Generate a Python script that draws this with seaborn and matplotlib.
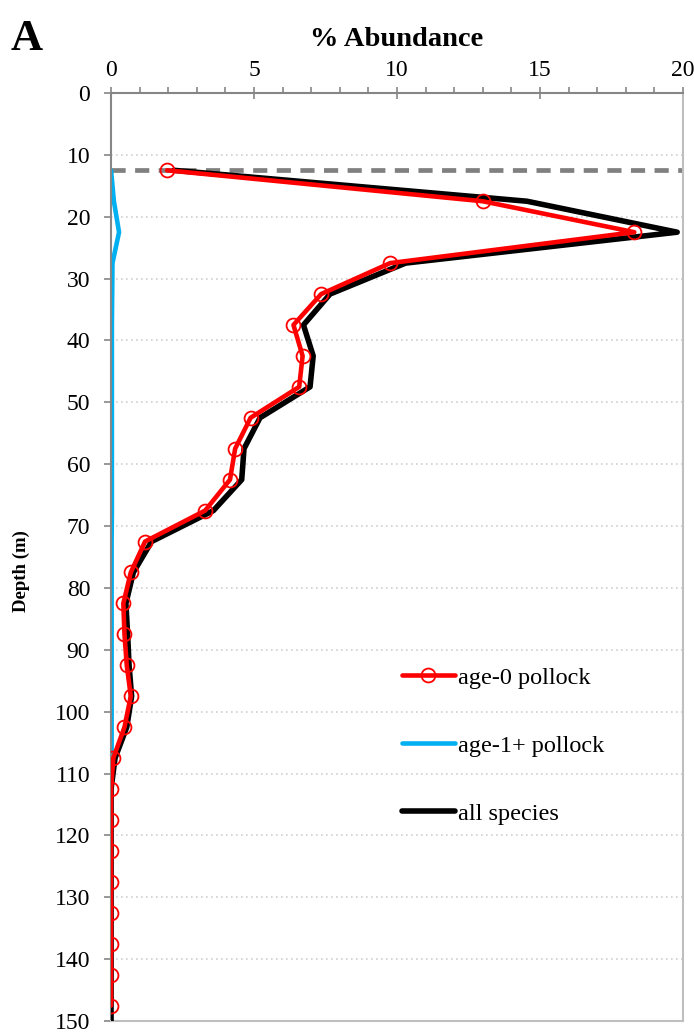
import matplotlib
matplotlib.use("Agg")
import matplotlib.pyplot as plt
import seaborn as sns
import pandas as pd
from matplotlib.ticker import MultipleLocator

# ---- data ----
depth = [12.5, 17.5, 22.5, 27.5, 32.5, 37.5, 42.5, 47.5, 52.5, 57.5, 62.5, 67.5,
         72.5, 77.5, 82.5, 87.5, 92.5, 97.5, 102.5, 107.5, 112.5, 117.5, 122.5,
         127.5, 132.5, 137.5, 142.5, 147.5]
age0 = [1.96, 13.0, 18.3, 9.76, 7.35, 6.38, 6.70, 6.58, 4.88, 4.34, 4.16, 3.29,
        1.19, 0.69, 0.43, 0.47, 0.55, 0.69, 0.47, 0.08, 0.0, 0.0, 0.0,
        0.0, 0.0, 0.0, 0.0, 0.0]
age1 = [0.0, 0.1, 0.28, 0.05, 0.04, 0.03, 0.03, 0.03, 0.03, 0.03, 0.03, 0.03,
        0.02, 0.02, 0.02, 0.02, 0.02, 0.02, 0.02, 0.02, 0.0, 0.0, 0.0,
        0.0, 0.0, 0.0, 0.0, 0.0]
all_depth = depth + [150.0]
all_species = [2.2, 14.55, 19.8, 10.3, 7.66, 6.73, 7.07, 6.96, 5.21, 4.65, 4.57, 3.58,
               1.42, 0.78, 0.52, 0.58, 0.63, 0.72, 0.55, 0.14, 0.0, 0.0, 0.0,
               0.0, 0.0, 0.0, 0.0, 0.0, 0.0]
surface_depth = 12.5
x_ticks = [0, 5, 10, 15, 20]
y_ticks = list(range(0, 151, 10))

sns.set_style("white")
plt.rcParams['font.family'] = ['Liberation Serif', 'DejaVu Serif']
plt.rcParams['text.color'] = 'black'
plt.rcParams['axes.labelcolor'] = 'black'
plt.rcParams['xtick.color'] = 'black'
plt.rcParams['ytick.color'] = 'black'

fig = plt.figure(figsize=(6.94, 10.33), dpi=100)
ax = fig.add_axes([0.16, 0.0116, 0.824, 0.8984])

ax.axhline(surface_depth, color='#808080', lw=3.4, ls=(0, (3, 2)), zorder=1)

df0 = pd.DataFrame({'x': age0, 'y': depth})
df1 = pd.DataFrame({'x': age1, 'y': depth})
dfa = pd.DataFrame({'x': all_species, 'y': all_depth})

sns.lineplot(data=df1, x='x', y='y', sort=False, estimator=None, color='#00B0F0',
             lw=3.3, ax=ax, label='age-1+ pollock', zorder=2)
sns.lineplot(data=dfa, x='x', y='y', sort=False, estimator=None, color='black',
             lw=4.0, ax=ax, label='all species', zorder=3)
sns.lineplot(data=df0, x='x', y='y', sort=False, estimator=None, color='#FF0000',
             lw=3.3, marker='o', markersize=10, markerfacecolor='none',
             markeredgecolor='#FF0000', markeredgewidth=1.3, ax=ax,
             label='age-0 pollock', zorder=4)

ax.set_xlim(0, 20)
ax.set_ylim(150, 0)
ax.set_xticks(x_ticks)
ax.set_yticks(y_ticks)
ax.xaxis.set_minor_locator(MultipleLocator(1))
ax.xaxis.tick_top()
ax.xaxis.set_label_position('top')
ax.tick_params(axis='x', which='major', direction='inout', length=9, width=1.2,
               color='#868686', labelsize=17, pad=4, top=True, bottom=False)
ax.tick_params(axis='x', which='minor', direction='out', length=4, width=1.2,
               color='#868686', top=True, bottom=False)
ax.tick_params(axis='y', which='major', direction='out', length=5, width=1.2,
               color='#868686', labelsize=17, pad=10, left=True)

ax.grid(axis='y', color='#d0d0d0', ls=(0, (1, 2)), lw=1.2)
ax.grid(axis='x', visible=False)
for side in ['top', 'left']:
    ax.spines[side].set_color('#868686')
    ax.spines[side].set_linewidth(1.5)
for side in ['right', 'bottom']:
    ax.spines[side].set_color('#bfbfbf')
    ax.spines[side].set_linewidth(1.5)

ax.set_xlabel('% Abundance', fontsize=20.5, fontweight='bold', labelpad=10)
ax.set_ylabel('Depth (m)', fontsize=13.5, fontweight='bold')
ax.yaxis.set_label_coords(-0.142, 0.485)

handles, labels = ax.get_legend_handles_labels()
order = [labels.index('age-0 pollock'), labels.index('age-1+ pollock'),
         labels.index('all species')]
ax.legend([handles[i] for i in order], [labels[i] for i in order],
          loc='upper left', bbox_to_anchor=(0.488, 0.395), frameon=False,
          fontsize=17.5, handlelength=2.15, handletextpad=0.15, labelspacing=1.9,
          borderpad=0)

fig.text(0.015, 0.952, 'A', fontsize=32, fontweight='bold')

fig.savefig('out.png', dpi=100)
